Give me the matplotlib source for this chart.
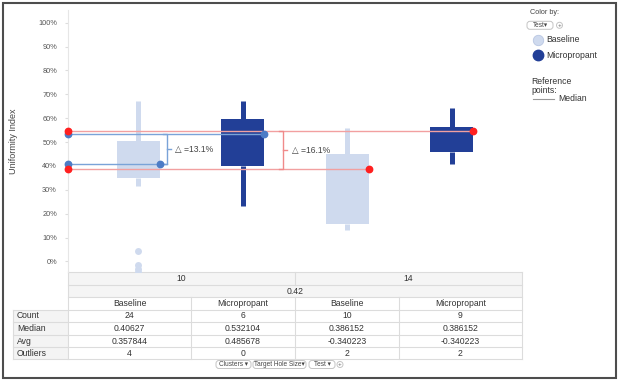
import matplotlib.pyplot as plt
from matplotlib.patches import Rectangle, FancyBboxPatch, Circle
from matplotlib.ticker import PercentFormatter, FixedLocator

# --- donnees ---
hole_sizes = ["10", "14"]
shared_row = "0.42"
tests = ["Baseline", "Micropropant", "Baseline", "Micropropant"]
colors = ["#cfdaee", "#223f97", "#cfdaee", "#223f97"]

whis_hi = [0.674, 0.674, 0.559, 0.643]
q3 = [0.505, 0.597, 0.448, 0.562]
q1 = [0.350, 0.398, 0.157, 0.460]
whis_lo = [0.316, 0.232, 0.132, 0.408]
outliers = [[0.044, -0.015, -0.030, -0.042], [], [], []]

row_names = ["Count", "Median", "Avg", "Outliers"]
counts = ["24", "6", "10", "9"]
medians = [0.40627, 0.532104, 0.386152, 0.386152]
avgs = ["0.357844", "0.485678", "-0.340223", "-0.340223"]
n_outliers = ["4", "0", "2", "2"]

# lignes de reference (valeur, indice de la boite ou la ligne s'arrete)
blue_refs = [(0.40627, 0), (0.532104, 1)]
red_refs = [(0.386152, 2), (0.547, 3)]
delta_labels = ["\u25b3 =13.1%", "\u25b3 =16.1%"]

plt.rcParams['font.family'] = ['Liberation Sans', 'DejaVu Sans']

W, H = 620, 382
fig = plt.figure(figsize=(6.2, 3.82), dpi=100)


def px_axes(x0, y0, x1, y1):
    return fig.add_axes([x0 / W, 1 - y1 / H, (x1 - x0) / W, (y1 - y0) / H])


# --- zone du graphique ---
ax = px_axes(68, 10, 522, 272)
pos = [0, 1, 2, 3]
bw = 0.41
stats = []
for i in range(4):
    stats.append(dict(med=medians[i], q1=q1[i], q3=q3[i],
                      whislo=whis_lo[i], whishi=whis_hi[i], fliers=outliers[i]))
bp = ax.bxp(stats, positions=pos, widths=bw, patch_artist=True, showcaps=False,
            boxprops=dict(linewidth=0), medianprops=dict(linewidth=0),
            whiskerprops=dict(linewidth=3.6, solid_capstyle='butt'),
            flierprops=dict(marker='o', markersize=5, markeredgewidth=0))
for i in range(4):
    bp['boxes'][i].set_facecolor(colors[i])
    bp['boxes'][i].set_zorder(3)
    for w in bp['whiskers'][2 * i:2 * i + 2]:
        w.set_color(colors[i])
        w.set_zorder(2)
    bp['fliers'][i].set_markerfacecolor(colors[i])
    bp['fliers'][i].set_clip_on(True)

xmin, xmax = -0.67, 3.67
ax.set_xlim(xmin, xmax)
ax.set_ylim(-0.044, 1.053)

for refs, lc, dc in [(blue_refs, "#7aa3d8", "#4d7cc6"), (red_refs, "#f2a0a0", "#ff2020")]:
    for v, b in refs:
        xe = pos[b] + bw / 2
        ax.plot([xmin, xe], [v, v], color=lc, lw=1.0, zorder=4)
        ax.plot([xmin, xe], [v, v], 'o', color=dc, ms=4.6, zorder=5, clip_on=False)

# accolades delta
for refs, xb, lc, lab in [(blue_refs, 0.277, "#7aa3d8", delta_labels[0]),
                          (red_refs, 1.388, "#f08a8a", delta_labels[1])]:
    lo, hi = refs[0][0], refs[1][0]
    xe = pos[refs[0][1]] + bw / 2
    if xe < xb:
        ax.plot([xe, xb], [lo, lo], color=lc, lw=1.0, zorder=4)
    ax.plot([xb - 0.04, xb, xb, xb - 0.04], [hi, hi, lo, lo], color=lc, lw=1.0, zorder=4)
    mid = (lo + hi) / 2
    ax.plot([xb, xb + 0.04], [mid, mid], color=lc, lw=1.0, zorder=4)
    ax.text(xb + 0.08, mid, lab, fontsize=6.2, color="#444444", va='center', ha='left')

ax.yaxis.set_major_locator(FixedLocator([i / 10 for i in range(11)]))
ax.yaxis.set_major_formatter(PercentFormatter(xmax=1, decimals=0))
ax.tick_params(axis='y', labelsize=5.3, labelcolor="#555555", length=2,
               color="#dddddd", pad=6)
ax.set_xticks([])
for s in ['top', 'right', 'bottom']:
    ax.spines[s].set_visible(False)
ax.spines['left'].set_color("#e6e6e6")
ax.set_facecolor('none')

# --- calque en pixels pour le tableau, la legende et le cadre ---
ov = fig.add_axes([0, 0, 1, 1], zorder=-1)
ov.set_xlim(0, W)
ov.set_ylim(H, 0)
ov.axis('off')

ov.text(14, 141, "Uniformity Index", rotation=90, fontsize=6.5, color="#444444",
        ha='center', va='center')

grid = "#dcdcdc"
cols = [68, 191, 295, 399, 522]
rows = [272, 285, 297, 310, 322, 335, 347, 359]
ov.add_patch(Rectangle((68, 272), 454, 25, facecolor="#f5f5f5", edgecolor='none'))
ov.add_patch(Rectangle((13, 310), 55, 49, facecolor="#f4f4f4", edgecolor='none'))
for y in rows:
    x0 = 13 if y >= 310 else 68
    ov.plot([x0, 522], [y, y], color=grid, lw=0.8)
ov.plot([68, 68], [272, 359], color=grid, lw=0.8)
ov.plot([522, 522], [272, 359], color=grid, lw=0.8)
ov.plot([295, 295], [272, 285], color=grid, lw=0.8)
ov.plot([13, 13], [310, 359], color=grid, lw=0.8)
for x in cols[1:-1]:
    ov.plot([x, x], [297, 359], color=grid, lw=0.8)

tc = "#333333"
fs = 6.2
ov.text(181.5, 278.5, hole_sizes[0], fontsize=fs, color=tc, ha='center', va='center')
ov.text(408.5, 278.5, hole_sizes[1], fontsize=fs, color=tc, ha='center', va='center')
ov.text(295, 291, shared_row, fontsize=fs, color=tc, ha='center', va='center')
table_rows = [counts, ["%g" % m for m in medians], avgs, n_outliers]
for j in range(4):
    xc = (cols[j] + cols[j + 1]) / 2
    ov.text(xc, 303.5, tests[j], fontsize=fs, color=tc, ha='center', va='center')
    for r in range(4):
        ov.text(xc, (rows[r + 3] + rows[r + 4]) / 2, table_rows[r][j],
                fontsize=fs, color=tc, ha='center', va='center')
for r in range(4):
    ov.text(17, (rows[r + 3] + rows[r + 4]) / 2, row_names[r], fontsize=fs,
            color=tc, ha='left', va='center')


def pill(x0, x1, yc, label):
    ov.add_patch(FancyBboxPatch((x0 + 3, yc - 1), x1 - x0 - 6, 2,
                                boxstyle="round,pad=3", facecolor='white',
                                edgecolor="#c4c4c4", lw=0.7))
    ov.text((x0 + x1) / 2, yc, label, fontsize=4.7, color="#444444",
            ha='center', va='center')


def plus(xc, yc):
    ov.add_patch(Circle((xc, yc), 3, facecolor='white', edgecolor="#c4c4c4", lw=0.7))
    ov.text(xc, yc, "+", fontsize=4.5, color="#666666", ha='center', va='center')


pill(216, 251, 364.5, "Clusters \u25be")
pill(253, 306, 364.5, "Target Hole Size\u25be")
pill(309, 335, 364.5, "Test \u25be")
plus(340, 364.5)

# legende
ov.text(530, 13, "Color by:", fontsize=5.2, color="#444444", ha='left', va='center')
pill(527, 553, 25.3, "Test\u25be")
plus(559.5, 25.3)
ov.plot([538], [40], 'o', ms=7.5, color=colors[0], mec="#b8c6e2", mew=0.6)
ov.text(546, 40, tests[0], fontsize=fs, color="#333333", ha='left', va='center')
ov.plot([538], [55], 'o', ms=7.5, color=colors[1])
ov.text(546, 55, tests[1], fontsize=fs, color="#333333", ha='left', va='center')
ov.text(531, 86, "Reference\npoints:", fontsize=6.2, color="#333333", ha='left',
        va='center', linespacing=0.9)
ov.plot([533, 554], [99, 99], color="#999999", lw=0.8)
ov.text(558, 98.5, "Median", fontsize=6.2, color="#333333", ha='left', va='center')

ov.add_patch(Rectangle((3, 3), 613, 375, facecolor='none', edgecolor="#4d4d4d", lw=1.5))

fig.savefig("out.png", dpi=100)
